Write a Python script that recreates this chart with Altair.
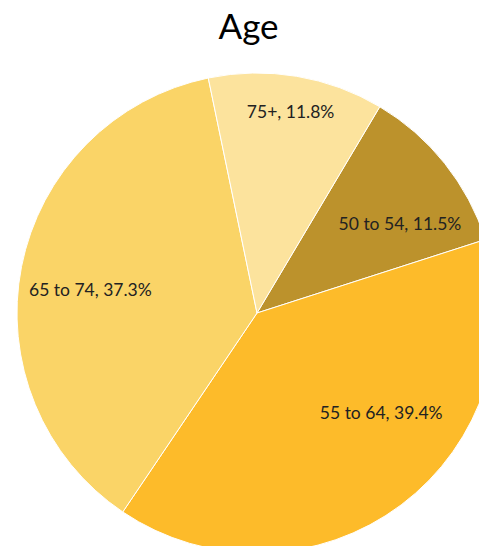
import altair as alt
import pandas as pd

categories = ["50 to 54", "55 to 64", "65 to 74", "75+"]
shares = [11.5, 39.4, 37.3, 11.8]
colors = ["#BC922C", "#FDBB2A", "#FAD467", "#FCE39D"]

df = pd.DataFrame({"group": categories, "share": shares, "order": list(range(len(categories)))})
df["label"] = df["group"] + ", " + df["share"].map(lambda v: f"{v:.1f}%")

start = 0.537  # radians, where the first slice begins (clockwise from 12 o'clock)
theta_scale = alt.Scale(range=[start, start + 2 * 3.14159265])

cx, cy, R = 249, 255, 240

base = alt.Chart(df).encode(
    theta=alt.Theta("share:Q", stack=True, scale=theta_scale),
    order=alt.Order("order:Q"),
)

pie = base.mark_arc(stroke="#ffffff", strokeWidth=1, outerRadius=R).encode(
    color=alt.Color("group:N", scale=alt.Scale(domain=categories, range=colors), legend=None),
    x=alt.value(cx),
    y=alt.value(cy),
)

# label placement (radius, angular nudge) per slice
label_pos = {
    "50 to 54": (168, 0.12),
    "55 to 64": (160, -0.245),
    "65 to 74": (168, -0.066),
    "75+": (203, 0.0),
}

layers = [pie]
for g, (r, off) in label_pos.items():
    layers.append(
        base.mark_text(
            radius=r, thetaOffset=off, font="Lato", fontSize=17.5, color="#222222"
        ).encode(
            text="label:N",
            x=alt.value(cx),
            y=alt.value(cy),
            opacity=alt.condition(alt.datum.group == g, alt.value(1), alt.value(0)),
        )
    )

chart = alt.layer(*layers).properties(
    width=471,
    height=488,
    title=alt.Title("Age", fontSize=35, font="Lato", fontWeight="normal", color="#000000",
                    anchor="middle", offset=12, dx=5),
    autosize=alt.AutoSizeParams(type="none"),
    padding={"left": 0, "top": 50, "right": 0, "bottom": 0},
).configure_view(stroke=None)

chart.save("out.html", embed_options={"renderer": "svg", "actions": False})
